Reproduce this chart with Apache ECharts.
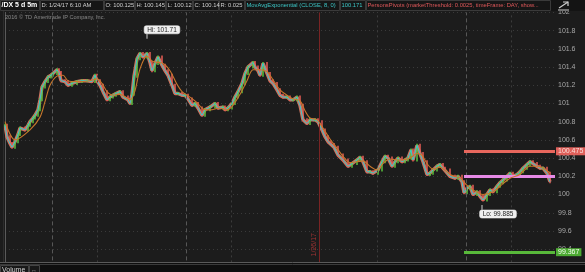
<!DOCTYPE html>
<html><head><meta charset="utf-8">
<script src="https://cdn.jsdelivr.net/npm/echarts@6/dist/echarts.min.js"></script>
<style>html,body{margin:0;padding:0;background:#1c1c1c;}#c{width:585px;height:272px;}</style>
</head><body><div id="c"></div>
<script>
// ---- data (bar index = 5-minute bar position, value = price) ----
const closeBars = [0,2,5,7,10,13,15,20,23,25,28,30,33,35,37,40,43,46,48,52,54,56,60,63,67,72,77,82,87,90,92,95,98,102,105,108,111,115,118,123,125,127,129,132,135,138,142,145,147,150,153,157,160,163,167,170,173,177,180,183,187,190,193,197,200,205,210,213,218,220,223,227,230,233,237,240,243,248,250,253,255,258,262,265,268,272,275,278,282,285,288,292,295,298,302,305,310,313,317,320,323,326,329,333,338,343,347,352,355,358,362,365,368,373,377,380,383,387,390,393,397,400,403,406,408,412,415,418,422,425,428,432,435,438,440,445,450,453,457,459,462,465,468,472,475,478,482,485,488,492,495,498,502,505,508,512,515,518,522,525,528,532,535,538,542,545];
const closeVals = [100.76,100.635,100.56,100.52,100.58,100.66,100.73,100.71,100.76,100.80,100.84,100.87,100.93,101.04,101.18,101.24,101.29,101.31,101.33,101.37,101.34,101.25,101.24,101.20,101.22,101.24,101.25,101.25,101.24,101.31,101.25,101.20,101.13,101.04,101.07,101.09,101.11,101.13,101.07,101.04,101.00,101.10,101.30,101.49,101.55,101.51,101.55,101.45,101.36,101.44,101.51,101.42,101.36,101.31,101.20,101.11,101.11,101.09,101.09,101.05,100.98,101.00,100.95,100.87,100.93,100.96,101.00,100.95,100.96,100.93,100.95,101.00,101.07,101.13,101.22,101.33,101.40,101.45,101.40,101.36,101.31,101.44,101.33,101.25,101.22,101.15,101.09,101.07,101.07,101.04,101.04,101.07,100.98,100.82,100.78,100.82,100.82,100.80,100.71,100.635,100.58,100.55,100.52,100.435,100.38,100.31,100.34,100.38,100.41,100.36,100.25,100.25,100.235,100.27,100.36,100.42,100.40,100.31,100.36,100.40,100.36,100.38,100.40,100.49,100.38,100.54,100.45,100.36,100.22,100.235,100.27,100.31,100.33,100.29,100.27,100.20,100.18,100.20,100.14,100.02,100.07,100.09,100.00,100.03,99.98,99.94,100.00,100.05,100.03,100.09,100.13,100.16,100.20,100.235,100.20,100.22,100.25,100.29,100.33,100.36,100.34,100.31,100.29,100.29,100.235,100.14];
const emaBars = [0,10,25,35,40,45,52,58,63,72,85,92,97,102,108,115,125,130,135,142,148,158,165,172,177,185,192,198,205,215,222,228,235,242,248,255,262,268,275,282,288,295,300,305,312,318,325,332,338,345,352,358,365,372,378,385,392,398,405,412,417,422,428,435,445,455,462,468,478,488,498,505,515,525,532,538,545];
const emaVals = [100.80,100.60,100.71,100.85,101.02,101.20,101.30,101.31,101.25,101.24,101.25,101.27,101.22,101.13,101.09,101.10,101.04,101.14,101.38,101.52,101.46,101.44,101.36,101.21,101.13,101.07,101.01,100.94,100.93,100.95,100.93,100.98,101.10,101.25,101.37,101.37,101.35,101.26,101.15,101.09,101.05,101.03,100.92,100.84,100.82,100.73,100.61,100.51,100.42,100.35,100.36,100.37,100.31,100.27,100.34,100.39,100.38,100.38,100.40,100.45,100.43,100.34,100.28,100.30,100.22,100.18,100.10,100.05,100.00,100.03,100.12,100.18,100.22,100.31,100.31,100.29,100.24];
const sessionLines = [47, 181, 461];
const hourLines = [92, 226, 372, 506];
const dateLineBar = 314, dateLineLabel = '1/26/17';
const pivotStartBar = 459, lastBar = 550;
const pivotR = 100.475, pivotP = 100.2, pivotS = 99.367;
const lastPrice = 100.14;
const hiPoint = [142, 101.71], loPoint = [477, 99.885];
const yMin = 99.2, yMax = 102, yStep = 0.2;
const headerCells = [
  {t:'/DX 5 d 5m', c:'#ffffff', b:true},
  {t:'D: 1/24/17 6:10 AM', c:'#cfcfcf'},
  {t:'O: 100.125', c:'#cfcfcf'},
  {t:'H: 100.145', c:'#cfcfcf'},
  {t:'L: 100.12', c:'#cfcfcf'},
  {t:'C: 100.14', c:'#cfcfcf'},
  {t:'R: 0.025', c:'#cfcfcf'},
  {t:'MovAvgExponential (CLOSE, 8, 0)', c:'#3cc6c6'},
  {t:'100.171', c:'#3cc6c6'},
  {t:'PersonsPivots (marketThreshold: 0.0025, timeFrame: DAY, show...', c:'#e0585a'}
];
const cellX = [0,40,104,135,166,193,219,245,340,366,551];

const FONT = 'Liberation Sans, Arial, sans-serif';
const chart = echarts.init(document.getElementById('c'), null, {renderer:'canvas'});
const closeData = closeBars.map((b,i)=>[b, closeVals[i]]);
const candleData = closeBars.map((b,i)=>[b, i ? closeVals[i-1] : closeVals[0], closeVals[i]]);
const emaData = emaBars.map((b,i)=>[b, emaVals[i]]);

const vLines = [];
sessionLines.forEach(b=>vLines.push({xAxis:b, lineStyle:{color:'#575757', type:[4,3], width:1}}));
hourLines.forEach(b=>vLines.push({xAxis:b, lineStyle:{color:'#3c3c3c', type:[2,3], width:1}}));
vLines.push({xAxis:dateLineBar, lineStyle:{color:'#7a2424', type:'solid', width:1},
  label:{show:true, formatter:dateLineLabel, position:'insideStartTop', color:'#a03434', fontSize:7, distance:1, padding:[0,0,0,10]}});

const graphics = [];
graphics.push({type:'rect', shape:{x:0,y:0,width:585,height:11}, style:{fill:'#141414'}, z:100});
headerCells.forEach((h,i)=>{
  const x0 = cellX[i], x1 = cellX[i+1]-1;
  const last = i === headerCells.length-1;
  graphics.push({type:'rect', shape:{x:x0+0.5,y:0.5,width:x1-x0,height:10}, style:{fill:'#161616', stroke:'#3a3a3a', lineWidth:1}, z:101});
  const st = {text:h.t, fill:h.c, fontSize: h.b?7:5.8, fontWeight:h.b?'bold':'normal', fontFamily:FONT, verticalAlign:'middle'};
  if (last) { st.width = x1-x0-2; st.overflow = 'truncate'; st.ellipsis = ''; }
  graphics.push({type:'text', x:x0+1.5, y:5.5, style:st, z:102});
});
graphics.push({type:'polyline', shape:{points:[[559,8],[568,2]]}, style:{stroke:'#cfcfcf', lineWidth:1.2}, z:102});
graphics.push({type:'polyline', shape:{points:[[563,2],[568,2],[568,6]]}, style:{stroke:'#cfcfcf', lineWidth:1.2, fill:null}, z:102});
graphics.push({type:'polyline', shape:{points:[[558,10],[569,10]]}, style:{stroke:'#cfcfcf', lineWidth:1}, z:102});
graphics.push({type:'text', x:5, y:17, style:{text:'2016 \u00a9 TD Ameritrade IP Company, Inc.', fill:'#8a8a8a', fontSize:5.6, fontFamily:FONT, verticalAlign:'middle'}, z:102});
graphics.push({type:'line', shape:{x1:3.5,y1:11,x2:3.5,y2:262}, style:{stroke:'#2c2c2c', lineWidth:1}, z:101});
// volume panel strip
graphics.push({type:'rect', shape:{x:0,y:262,width:585,height:10}, style:{fill:'#0e0e0e'}, z:100});
graphics.push({type:'line', shape:{x1:0,y1:262.5,x2:585,y2:262.5}, style:{stroke:'#5a5a5a', lineWidth:1}, z:101});
graphics.push({type:'line', shape:{x1:0,y1:264.5,x2:585,y2:264.5}, style:{stroke:'#3a3a3a', lineWidth:1}, z:101});
graphics.push({type:'rect', shape:{x:0.5,y:265.5,width:28,height:8}, style:{fill:'#181818', stroke:'#444', lineWidth:1}, z:101});
graphics.push({type:'text', x:2, y:270, style:{text:'Volume', fill:'#cfcfcf', fontSize:7, fontFamily:FONT, verticalAlign:'middle'}, z:102});
graphics.push({type:'rect', shape:{x:29.5,y:265.5,width:10,height:8}, style:{fill:'#181818', stroke:'#444', lineWidth:1}, z:101});
graphics.push({type:'text', x:31, y:270, style:{text:'\u2194', fill:'#aaa', fontSize:6, verticalAlign:'middle'}, z:102});

chart.setOption({
  backgroundColor:'#1c1c1c',
  animation:false,
  grid:{left:5, right:30, top:12.4, height:255, containLabel:false},
  xAxis:{type:'value', min:0, max:lastBar, show:false, splitLine:{show:false}},
  yAxis:{type:'value', position:'right', min:yMin, max:yMax, interval:yStep,
    axisLine:{show:true, lineStyle:{color:'#5a5a5a'}}, axisTick:{show:false},
    axisLabel:{color:'#a8a8a8', fontSize:7, margin:3, fontFamily:FONT},
    splitLine:{show:true, lineStyle:{color:'#3a3a3a', type:[1,3]}}},
  graphic: graphics,
  series:[
    {type:'line', data:closeData, symbol:'none', lineStyle:{color:'rgba(222,128,104,0.9)', width:3.4}, z:2, silent:true,
     markLine:{silent:true, symbol:['none','none'], label:{show:false}, data:vLines}},
    {type:'custom', data:candleData, z:3, silent:true,
     renderItem:(params, api)=>{
       const x = api.value(0), o = api.value(1), c = api.value(2);
       const p1 = api.coord([x,o]), p2 = api.coord([x,c]);
       const top = Math.min(p1[1],p2[1]) - 1.5; const h = Math.abs(p1[1]-p2[1]) + 3;
       return {type:'rect', shape:{x:p1[0]-0.75, y:top, width:1.5, height:h}, style:{fill: c>=o ? '#58c23c' : '#e85c54'}};
     }},
    {type:'line', data:closeData, symbol:'none', lineStyle:{color:'#3cc8cc', width:1}, z:4, silent:true,
     markPoint:{silent:true, data:[
       {coord:hiPoint, symbol:'rect', symbolSize:[1,5], symbolOffset:[0,-2.5], itemStyle:{color:'#d0d0d0'},
        label:{show:true, position:'top', distance:0, offset:[15,0], formatter:'Hi: '+hiPoint[1], color:'#222', fontSize:6.5, backgroundColor:'#efefef', borderColor:'#999', borderWidth:0.5, borderRadius:2, padding:[1,3,0,3], fontFamily:FONT}},
       {coord:loPoint, symbol:'rect', symbolSize:[1,5], symbolOffset:[0,2.5], itemStyle:{color:'#d0d0d0'},
        label:{show:true, position:'bottom', distance:0, offset:[16,0], formatter:'Lo: '+loPoint[1], color:'#222', fontSize:6.5, backgroundColor:'#efefef', borderColor:'#999', borderWidth:0.5, borderRadius:2, padding:[1,3,0,3], fontFamily:FONT}}
     ]}},
    {type:'line', data:emaData, symbol:'none', smooth:0.3, lineStyle:{color:'#c8772c', width:1.1}, z:5, silent:true},
    {type:'line', data:[], clip:false, z:6, silent:true,
     markLine:{silent:true, symbol:['none','none'], data:[
       [{coord:[pivotStartBar,pivotR]},{coord:[lastBar,pivotR]}],
       [{coord:[pivotStartBar,pivotP]},{coord:[lastBar,pivotP]}],
       [{coord:[pivotStartBar,pivotS]},{coord:[lastBar,pivotS]}],
       [{coord:[lastBar-1,lastPrice]},{coord:[lastBar,lastPrice]}]
     ].map((d,i)=>{
       const cols = ['#e8675d','#e68ae6','#58b83a','#58b83a'];
       const txt = [String(pivotR), '', String(pivotS), String(lastPrice)];
       d[0].lineStyle = {color:cols[i], width:3, type:'solid', opacity: i===3?0:1};
       d[0].label = {show: txt[i]!=='', position:'end', distance:1, formatter:txt[i], color: i===0?'#fbe0dc':'#f4fff0', fontSize:7,
         backgroundColor: i===0?'#e0605a':'#4caa32', padding:[1,2,0,2], fontFamily:FONT};
       return d;
     })}}
  ]
});
</script></body></html>
